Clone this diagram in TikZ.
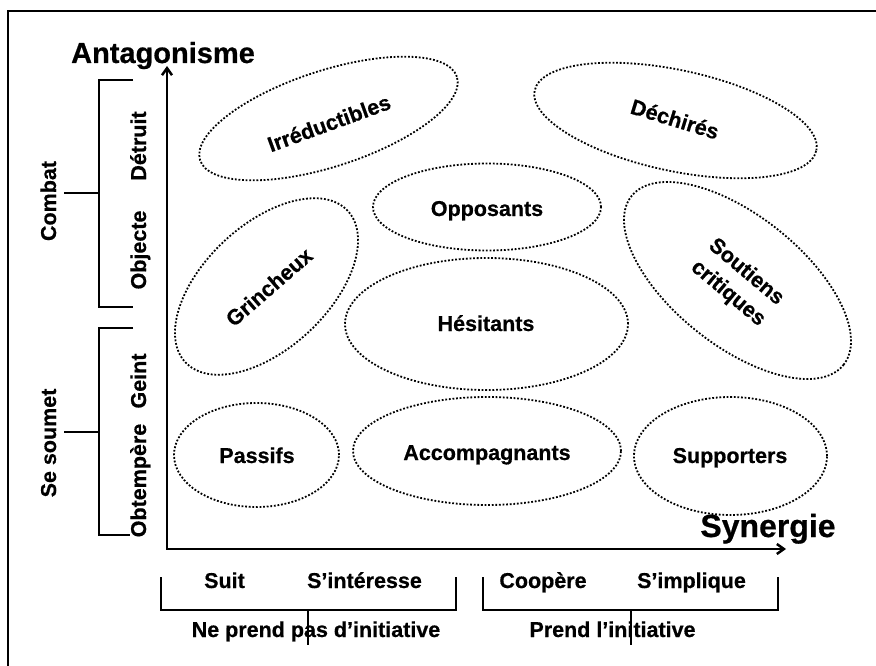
\documentclass[tikz,border=0pt]{standalone}
\usepackage{fontspec}
\setmainfont{Liberation Sans}[BoldFeatures={FakeBold=0.6}]
\usetikzlibrary{arrows.meta, shapes.geometric, positioning}

\tikzset{
  grp/.style={draw, ellipse, inner sep=0pt, line width=1.8pt, dash pattern=on 1.8pt off 1.8pt},
  lbl/.style={font=\fontsize{21.5}{28}\selectfont\bfseries, align=center, inner sep=0pt},
  ttl/.style={inner sep=0pt, anchor=base},
  brk/.style={line width=1.2pt},
  stem/.style={line width=1.8pt},
  axe/.style={line width=2.5pt, {Straight Barb[length=7pt,width=10pt]}-{Straight Barb[length=7pt,width=10pt]}},
}

\begin{document}
\begin{tikzpicture}[x=1pt, y=-1pt]
  \useasboundingbox (0,0) rectangle (876,666);
  \clip (0,0) rectangle (876,666);
  \draw[line width=2pt] (8,11) rectangle (890,680);

  % axes
  \coordinate (O) at (167,549);
  \coordinate (ytip) at (167,66);
  \coordinate (xtip) at (786,549);
  \draw[axe, line join=miter] (ytip) -- (O) -- (xtip);
  \node[ttl, font=\fontsize{29}{32}\selectfont\bfseries] (ant) at (163,63) {Antagonisme};
  \node[ttl, font=\fontsize{32}{36}\selectfont\bfseries] (syn) at (768,537) {Synergie};

  % groups
  \node[grp, minimum width=270, minimum height=96, rotate=18] (irr) at (328.5,118.5) {};
  \node[lbl, rotate=20] (irr-t) at (329,123) {Irréductibles};
  \node[grp, minimum width=288, minimum height=101, rotate=-12] (dec) at (675.5,120.5) {};
  \node[lbl, rotate=-17] (dec-t) at (675,119) {Déchirés};
  \node[grp, minimum width=228, minimum height=87] (opp) at (487,207) {};
  \node[lbl, anchor=base] (opp-t) at (487,216) {Opposants};
  \node[grp, minimum width=222, minimum height=124, rotate=43] (gri) at (266.5,286.5) {};
  \node[lbl, rotate=41] (gri-t) at (269,287) {Grincheux};
  \node[grp, minimum width=283, minimum height=132] (hes) at (486.5,324) {};
  \node[lbl, anchor=base] (hes-t) at (486,331) {Hésitants};
  \node[grp, minimum width=271, minimum height=130, rotate=-38.5] (sou) at (737.5,280.5) {};
  \node[lbl, rotate=-40] (sou-t) at (737,283) {Soutiens\\critiques};
  \node[grp, minimum width=165, minimum height=104] (pas) at (256.5,455) {};
  \node[lbl, anchor=base] (pas-t) at (257,463) {Passifs};
  \node[grp, minimum width=268, minimum height=108] (acc) at (487,451) {};
  \node[lbl, anchor=base] (acc-t) at (487,460) {Accompagnants};
  \node[grp, minimum width=193, minimum height=118] (sup) at (730.5,456) {};
  \node[lbl, anchor=base] (sup-t) at (730,463) {Supporters};

  % left scale
  \node[lbl, rotate=90, anchor=base] (det) at (146,146) {Détruit};
  \node[lbl, rotate=90, anchor=base] (obj) at (146,250) {Objecte};
  \node[lbl, rotate=90, anchor=base] (gei) at (146,381) {Geint};
  \node[lbl, rotate=90, anchor=base] (obt) at (146,480.5) {Obtempère};
  \node[lbl, rotate=90, anchor=base] (com) at (56,201) {Combat};
  \node[lbl, rotate=90, anchor=base] (sou2) at (56,443) {Se soumet};

  \coordinate (c1) at (133,80);  \coordinate (c2) at (133,307);
  \coordinate (c3) at (133,328); \coordinate (c4) at (130,535);
  \draw[brk] (c1) -- (99,80) -- (99,307) -- (c2);
  \draw[brk] (c3) -- (99,328) -- (99,535) -- (c4);
  \coordinate (cm) at (99,193);  \coordinate (sm) at (99,432);
  \draw[stem] (64,193) -- (cm);
  \draw[stem] (64,432) -- (sm);

  % bottom scale
  \node[lbl, anchor=base] (sui) at (224.5,588) {Suit};
  \node[lbl, anchor=base] (int) at (364.5,588) {S’intéresse};
  \node[lbl, anchor=base] (coo) at (543,588) {Coopère};
  \node[lbl, anchor=base] (imp) at (691.5,588) {S’implique};
  \node[lbl, anchor=base] (npi) at (316,637) {Ne prend pas d’initiative};
  \node[lbl, anchor=base] (pi) at (612.5,637) {Prend l’initiative};

  \coordinate (b1) at (161,577); \coordinate (b2) at (456,577);
  \coordinate (b3) at (483,577); \coordinate (b4) at (778,577);
  \draw[brk] (b1) -- (161,610) -- (456,610) -- (b2);
  \draw[brk] (b3) -- (483,610) -- (778,610) -- (b4);
  \coordinate (bm) at (308,610); \coordinate (pm) at (631,610);
  \draw[stem] (bm) -- (308,645);
  \draw[stem] (pm) -- (631,645);
\end{tikzpicture}
\end{document}
